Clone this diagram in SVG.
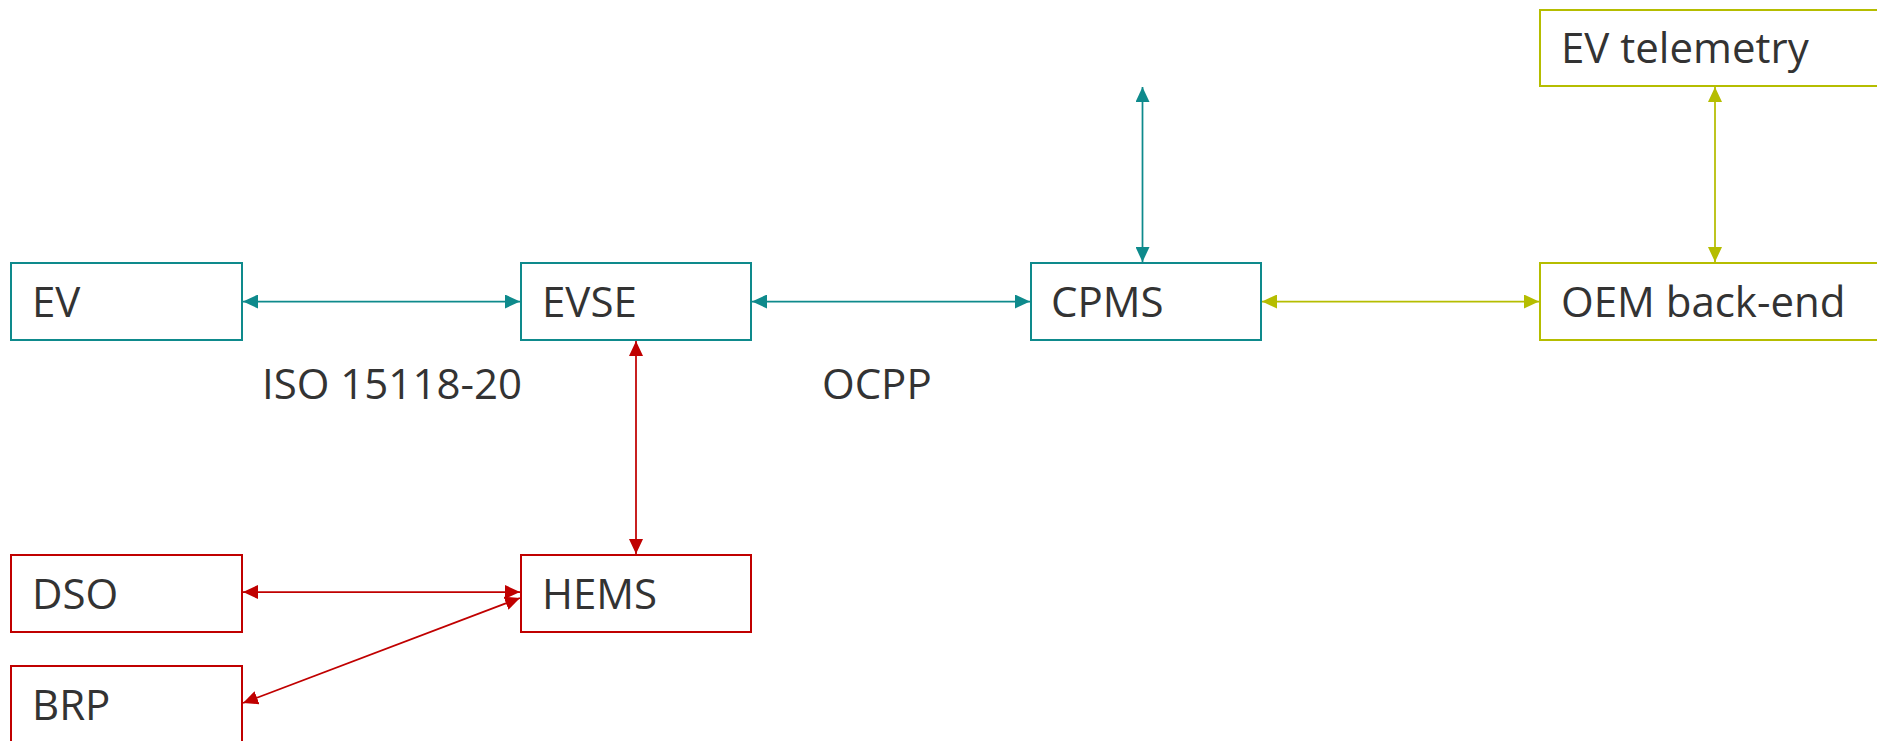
<svg xmlns="http://www.w3.org/2000/svg" width="1877" height="741" viewBox="0 0 1877 741">
<style>
.box{fill:#fff;stroke-width:2}
.t{stroke:#0E8A8C}
.r{stroke:#C00000}
.g{stroke:#B5BD00}
.lbl{font-family:"Open Sans","Liberation Sans",sans-serif;font-size:42px;fill:#333333}
.c{fill:none;stroke-width:1.75}
</style>
<defs>
<marker id="aT" markerUnits="userSpaceOnUse" markerWidth="16" markerHeight="14" refX="15" refY="7" orient="auto-start-reverse"><path d="M0,0 L15,7 L0,14 z" fill="#0E8A8C"/></marker>
<marker id="aR" markerUnits="userSpaceOnUse" markerWidth="16" markerHeight="14" refX="15" refY="7" orient="auto-start-reverse"><path d="M0,0 L15,7 L0,14 z" fill="#C00000"/></marker>
<marker id="aG" markerUnits="userSpaceOnUse" markerWidth="16" markerHeight="14" refX="15" refY="7" orient="auto-start-reverse"><path d="M0,0 L15,7 L0,14 z" fill="#B5BD00"/></marker>
</defs>
<rect width="1877" height="741" fill="#fff"/>
<g id="connectors">
<line class="c t" x1="243" y1="301.5" x2="520" y2="301.5" marker-start="url(#aT)" marker-end="url(#aT)"/>
<line class="c t" x1="752" y1="301.5" x2="1030" y2="301.5" marker-start="url(#aT)" marker-end="url(#aT)"/>
<line class="c t" x1="1142.5" y1="87" x2="1142.5" y2="262" marker-start="url(#aT)" marker-end="url(#aT)"/>
<line class="c g" x1="1262" y1="301.5" x2="1539" y2="301.5" marker-start="url(#aG)" marker-end="url(#aG)"/>
<line class="c g" x1="1715" y1="87" x2="1715" y2="262" marker-start="url(#aG)" marker-end="url(#aG)"/>
<line class="c r" x1="636" y1="341" x2="636" y2="554" marker-start="url(#aR)" marker-end="url(#aR)"/>
<line class="c r" x1="243" y1="592" x2="520" y2="592" marker-start="url(#aR)" marker-end="url(#aR)"/>
<line class="c r" x1="520" y1="598" x2="243" y2="703" marker-start="url(#aR)" marker-end="url(#aR)"/>
</g>
<g id="label-iso"><text class="lbl" x="262" y="399">ISO 15118-20</text></g>
<g id="label-ocpp"><text class="lbl" x="822" y="399">OCPP</text></g>
<g id="node-ev"><rect class="box t" x="11" y="263" width="231" height="77"/><text class="lbl" x="32" y="316.5">EV</text></g>
<g id="node-evse"><rect class="box t" x="521" y="263" width="230" height="77"/><text class="lbl" x="542" y="316.5">EVSE</text></g>
<g id="node-cpms"><rect class="box t" x="1031" y="263" width="230" height="77"/><text class="lbl" x="1051" y="316.5">CPMS</text></g>
<g id="node-oem"><rect class="box g" x="1540" y="263" width="350" height="77"/><text class="lbl" x="1561" y="316.5">OEM back-end</text></g>
<g id="node-telemetry"><rect class="box g" x="1540" y="10" width="350" height="76"/><text class="lbl" x="1561" y="63">EV telemetry</text></g>
<g id="node-hems"><rect class="box r" x="521" y="555" width="230" height="77"/><text class="lbl" x="542" y="609">HEMS</text></g>
<g id="node-dso"><rect class="box r" x="11" y="555" width="231" height="77"/><text class="lbl" x="32" y="609">DSO</text></g>
<g id="node-brp"><rect class="box r" x="11" y="666" width="231" height="77"/><text class="lbl" x="32" y="720">BRP</text></g>
</svg>
